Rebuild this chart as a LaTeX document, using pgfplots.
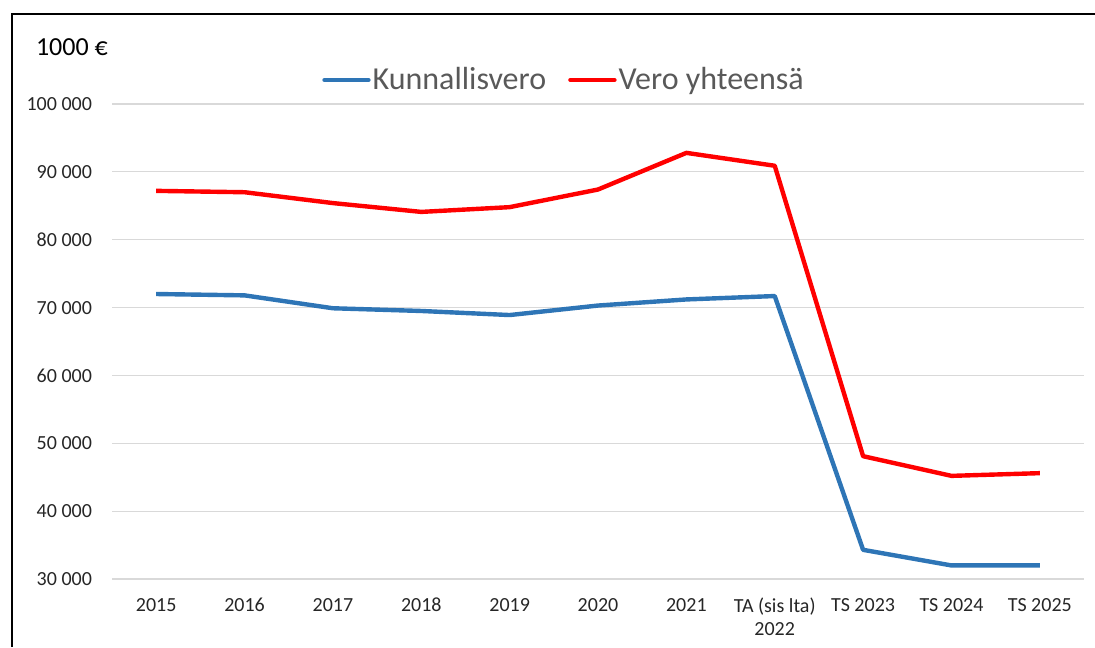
\documentclass[border=0pt]{standalone}
\usepackage{pgfplots}
\pgfplotsset{compat=1.18}
\usepackage{fontspec}
\setmainfont{Carlito}
\definecolor{kblue}{HTML}{2E75B6}
\definecolor{vred}{HTML}{FF0000}
\definecolor{gridgray}{HTML}{D9D9D9}
\definecolor{txt}{HTML}{262626}
\definecolor{legtxt}{HTML}{595959}

\begin{document}
\begin{tikzpicture}
    % 1 px of the reference = 0.5pt, origin at top-left
    \useasboundingbox (0pt,0pt) rectangle (547.5pt,-323.5pt);
    % frame cut off at right and bottom
    \draw[line width=1pt] (6pt,-323.5pt) -- (6pt,-7pt) -- (547.5pt,-7pt);

    \node[anchor=west, font=\fontsize{13}{15}\selectfont, text=black] at (14.5pt,-23.5pt) {1000 €};

    \begin{axis}[
            at={(56pt,-289.5pt)},
            anchor=south west,
            width=486pt,
            height=237.5pt,
            scale only axis,
            xmin=-0.5, xmax=10.5,
            ymin=30000, ymax=100000,
            axis line style={draw=none},
            xtick={0,...,10},
            xticklabels={2015,2016,2017,2018,2019,2020,2021,{TA (sis lta)\\2022},TS 2023,TS 2024,TS 2025},
            ytick={30000,40000,50000,60000,70000,80000,90000,100000},
            yticklabels={30 000,40 000,50 000,60 000,70 000,80 000,90 000,100 000},
            scaled y ticks=false,
            xtick pos=bottom, ytick pos=left,
            ymajorgrids,
            major grid style={gridgray, line width=0.6pt},
            major tick length=0pt,
            tick label style={font=\fontsize{10}{11.5}\selectfont, text=txt},
            xticklabel style={align=center, anchor=north, yshift=-6pt},
            yticklabel style={anchor=east, xshift=-6.5pt},
            legend columns=2,
            legend style={
                at={(0.5,1.0)}, anchor=south, yshift=4.5pt, xshift=-17pt,
                draw=none, fill=none,
                font=\fontsize{16}{18}\selectfont, text=legtxt,
                /tikz/every even column/.append style={column sep=10pt},
                nodes={inner sep=1pt},
                inner sep=0pt
            },
            legend image code/.code={\draw[#1, line width=2.2pt, line cap=round] (0pt,0pt) -- (22pt,0pt);},
            clip=false
        ]

        \addplot[color=kblue, line width=2.2pt, line join=round, mark=none] coordinates {
            (0,72000) (1,71800) (2,69900) (3,69500) (4,68900) (5,70300)
            (6,71200) (7,71700) (8,34300) (9,32000) (10,32000)
        };
        \addlegendentry{Kunnallisvero}

        \addplot[color=vred, line width=2.2pt, line join=round, mark=none] coordinates {
            (0,87200) (1,87000) (2,85400) (3,84100) (4,84800) (5,87400)
            (6,92800) (7,90900) (8,48100) (9,45200) (10,45600)
        };
        \addlegendentry{Vero yhteensä}

    \end{axis}
\end{tikzpicture}
\end{document}
